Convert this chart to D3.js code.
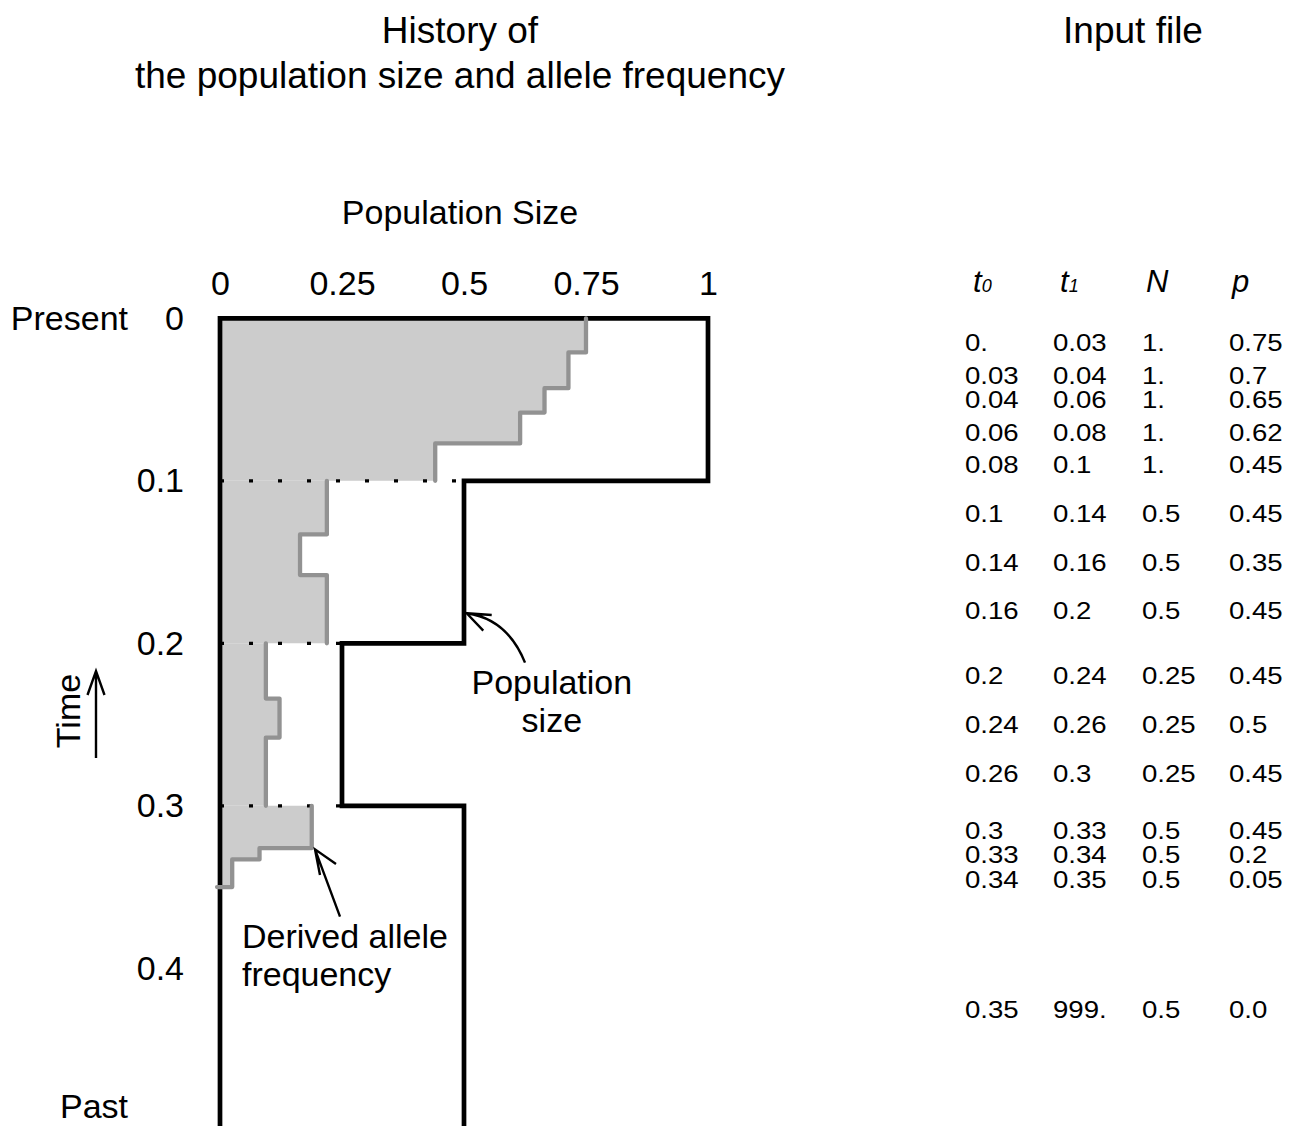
<!DOCTYPE html>
<html><head><meta charset="utf-8">
<script src="https://cdn.jsdelivr.net/npm/d3@7"></script>
<style>
body{margin:0;background:#fff;}
svg{display:block;}
text{font-family:"Liberation Sans", Arial, Helvetica, sans-serif; fill:#000;}
</style>
</head><body>
<svg id="chart" width="1289" height="1126"></svg>
<script>
// ---- axis ticks ----
const sizeTicks = [0, 0.25, 0.5, 0.75, 1];
const timeTicks = [0, 0.1, 0.2, 0.3, 0.4];

// ---- population size history (epochs) ----
const epochStart = [0, 0.1, 0.2, 0.3];
const epochEnd   = [0.1, 0.2, 0.3, 0.5];
const epochSize  = [1, 0.5, 0.25, 0.5];

// ---- derived allele frequency (as drawn, in population-size units) ----
const freqEpoch = [0, 0, 0, 0, 0, 1, 1, 1, 2, 2, 2, 3, 3, 3];
const freqStart = [0, 0.021, 0.043, 0.058, 0.077, 0.1, 0.133, 0.158, 0.2, 0.234, 0.258, 0.3, 0.326, 0.333];
const freqEnd   = [0.021, 0.043, 0.058, 0.077, 0.1, 0.133, 0.158, 0.2, 0.234, 0.258, 0.3, 0.326, 0.333, 0.35];
const freqValue = [0.75, 0.714, 0.665, 0.615, 0.441, 0.219, 0.164, 0.219, 0.094, 0.122, 0.094, 0.188, 0.081, 0.025];

// ---- input file table ----
const colT0 = ["0.", "0.03", "0.04", "0.06", "0.08", "0.1", "0.14", "0.16", "0.2", "0.24", "0.26", "0.3", "0.33", "0.34", "0.35"];
const colT1 = ["0.03", "0.04", "0.06", "0.08", "0.1", "0.14", "0.16", "0.2", "0.24", "0.26", "0.3", "0.33", "0.34", "0.35", "999."];
const colN  = ["1.", "1.", "1.", "1.", "1.", "0.5", "0.5", "0.5", "0.25", "0.25", "0.25", "0.5", "0.5", "0.5", "0.5"];
const colP  = ["0.75", "0.7", "0.65", "0.62", "0.45", "0.45", "0.35", "0.45", "0.45", "0.5", "0.45", "0.45", "0.2", "0.05", "0.0"];

const svg = d3.select("#chart");
const FONT = "'Liberation Sans', Arial, Helvetica, sans-serif";

const x = d3.scaleLinear().domain([0, 1]).range([220, 708]);
const y = d3.scaleLinear().domain([0, 0.5]).range([318.3, 1130.8]);
const P = (a, b) => [x(a), y(b)];

// titles
svg.append("text").attr("x", 460).attr("y", 43).attr("text-anchor", "middle").attr("font-size", 37).text("History of");
svg.append("text").attr("x", 460).attr("y", 88).attr("text-anchor", "middle").attr("font-size", 37).text("the population size and allele frequency");
svg.append("text").attr("x", 1133).attr("y", 43).attr("text-anchor", "middle").attr("font-size", 37).text("Input file");
svg.append("text").attr("x", 460).attr("y", 224).attr("text-anchor", "middle").attr("font-size", 34).text("Population Size");

// axes
const gx = svg.append("g").attr("transform", `translate(0,${y(0)})`)
  .call(d3.axisTop(x).tickValues(sizeTicks).tickSize(0).tickPadding(23).tickFormat(d => String(d)));
gx.select(".domain").remove();
gx.attr("font-size", 34).attr("font-family", FONT);

const gy = svg.append("g").attr("transform", `translate(${x(0)},0)`)
  .call(d3.axisLeft(y).tickValues(timeTicks).tickSize(0).tickPadding(36).tickFormat(d => String(d)));
gy.select(".domain").remove();
gy.attr("font-size", 34).attr("font-family", FONT);

svg.append("text").attr("x", 128).attr("y", y(0) + 12).attr("text-anchor", "end").attr("font-size", 34).text("Present");
svg.append("text").attr("x", 128).attr("y", 1118).attr("text-anchor", "end").attr("font-size", 34).text("Past");

// Time label with arrow
svg.append("text").attr("transform", "translate(80,711) rotate(-90)").attr("text-anchor", "middle").attr("font-size", 34).text("Time");
svg.append("path").attr("d", "M96,758 V671 M87.5,695 L96,671 L104.5,695")
  .attr("fill", "none").attr("stroke", "#000").attr("stroke-width", 2.4);

// frequency per epoch
const freqGroups = d3.groups(d3.range(freqValue.length), i => freqEpoch[i]);
const lastEpoch = d3.max(freqEpoch);

// fill
const area = d3.area().x0(x(0)).x1(d => x(d[0])).y(d => y(d[1]));
freqGroups.forEach(([ep, idx]) => {
  const pts = [];
  idx.forEach(i => { pts.push([freqValue[i], freqStart[i]]); pts.push([freqValue[i], freqEnd[i]]); });
  svg.append("path").attr("d", area(pts)).attr("fill", "#cccccc").attr("stroke", "none");
});

// dotted boundary lines
const line = d3.line().x(d => x(d[0])).y(d => y(d[1]));
for (let k = 1; k < epochStart.length; k++) {
  const t = epochStart[k];
  const m = Math.min(epochSize[k - 1], epochSize[k]);
  svg.append("path").attr("d", line([[0, t], [m, t]]))
    .attr("stroke", "#000").attr("stroke-width", 3.2).attr("stroke-dasharray", "4 25").attr("fill", "none");
}

// population size outline
const popPts = [[0, epochEnd[epochEnd.length - 1]], [0, 0]];
epochSize.forEach((n, k) => { popPts.push([n, epochStart[k]]); popPts.push([n, epochEnd[k]]); });
svg.append("path").attr("d", line(popPts)).attr("fill", "none").attr("stroke", "#000")
  .attr("stroke-width", 4.7).attr("stroke-linejoin", "miter");

// frequency line
freqGroups.forEach(([ep, idx]) => {
  const pts = [];
  idx.forEach(i => { pts.push([freqValue[i], freqStart[i]]); pts.push([freqValue[i], freqEnd[i]]); });
  if (ep === lastEpoch) pts.push([-0.006, freqEnd[idx[idx.length - 1]]]);
  svg.append("path").attr("d", line(pts)).attr("fill", "none").attr("stroke", "#929292")
    .attr("stroke-width", 4.3).attr("stroke-linejoin", "round").attr("stroke-linecap", "round");
});

// annotations
const pth = d3.path();
pth.moveTo(...P(0.625, 0.2119));
pth.quadraticCurveTo(...P(0.589, 0.185), ...P(0.5055, 0.1815));
pth.moveTo(...P(0.5568, 0.1826)); pth.lineTo(...P(0.5055, 0.1815)); pth.lineTo(...P(0.5395, 0.1922));
svg.append("path").attr("d", pth.toString()).attr("fill", "none").attr("stroke", "#000").attr("stroke-width", 2.4);
svg.append("text").attr("x", x(0.68)).attr("y", y(0.2312)).attr("text-anchor", "middle").attr("font-size", 34).text("Population");
svg.append("text").attr("x", x(0.68)).attr("y", y(0.2545)).attr("text-anchor", "middle").attr("font-size", 34).text("size");

const pth2 = d3.path();
pth2.moveTo(...P(0.2459, 0.3682));
pth2.quadraticCurveTo(...P(0.222, 0.349), ...P(0.1947, 0.3268));
pth2.moveTo(...P(0.2049, 0.3426)); pth2.lineTo(...P(0.1947, 0.3268)); pth2.lineTo(...P(0.2377, 0.3358));
svg.append("path").attr("d", pth2.toString()).attr("fill", "none").attr("stroke", "#000").attr("stroke-width", 2.4);
svg.append("text").attr("x", x(0.045)).attr("y", y(0.3875)).attr("font-size", 34).text("Derived allele");
svg.append("text").attr("x", x(0.045)).attr("y", y(0.4109)).attr("font-size", 34).text("frequency");

// table
const colX = [965, 1053, 1142, 1229];
const headX = [973, 1060, 1146, 1232];
const heads = [["t", "0"], ["t", "1"], ["N", ""], ["p", ""]];
heads.forEach((h, k) => {
  const t = svg.append("text").attr("x", headX[k]).attr("y", 292).attr("font-size", 31).attr("font-style", "italic");
  t.append("tspan").text(h[0]);
  if (h[1]) t.append("tspan").attr("font-size", 18).text(h[1]);
});
const cols = [colT0, colT1, colN, colP];
const tEnd = y.domain()[1];
// row centres at the middle of each interval, nudged upward from the bottom to keep a minimum gap
const rowY = colT0.map((s, i) => y((parseFloat(colT0[i]) + Math.min(parseFloat(colT1[i]), tEnd)) / 2));
for (let i = rowY.length - 2; i >= 0; i--) rowY[i] = Math.min(rowY[i], rowY[i + 1] - 24.5);
rowY.forEach((yc, i) => {
  cols.forEach((c, k) => {
    svg.append("text").attr("transform", `translate(${colX[k]},${yc}) scale(1.15,1)`)
      .attr("dy", "0.36em").attr("font-size", 24).text(c[i]);
  });
});
</script>
</body></html>
